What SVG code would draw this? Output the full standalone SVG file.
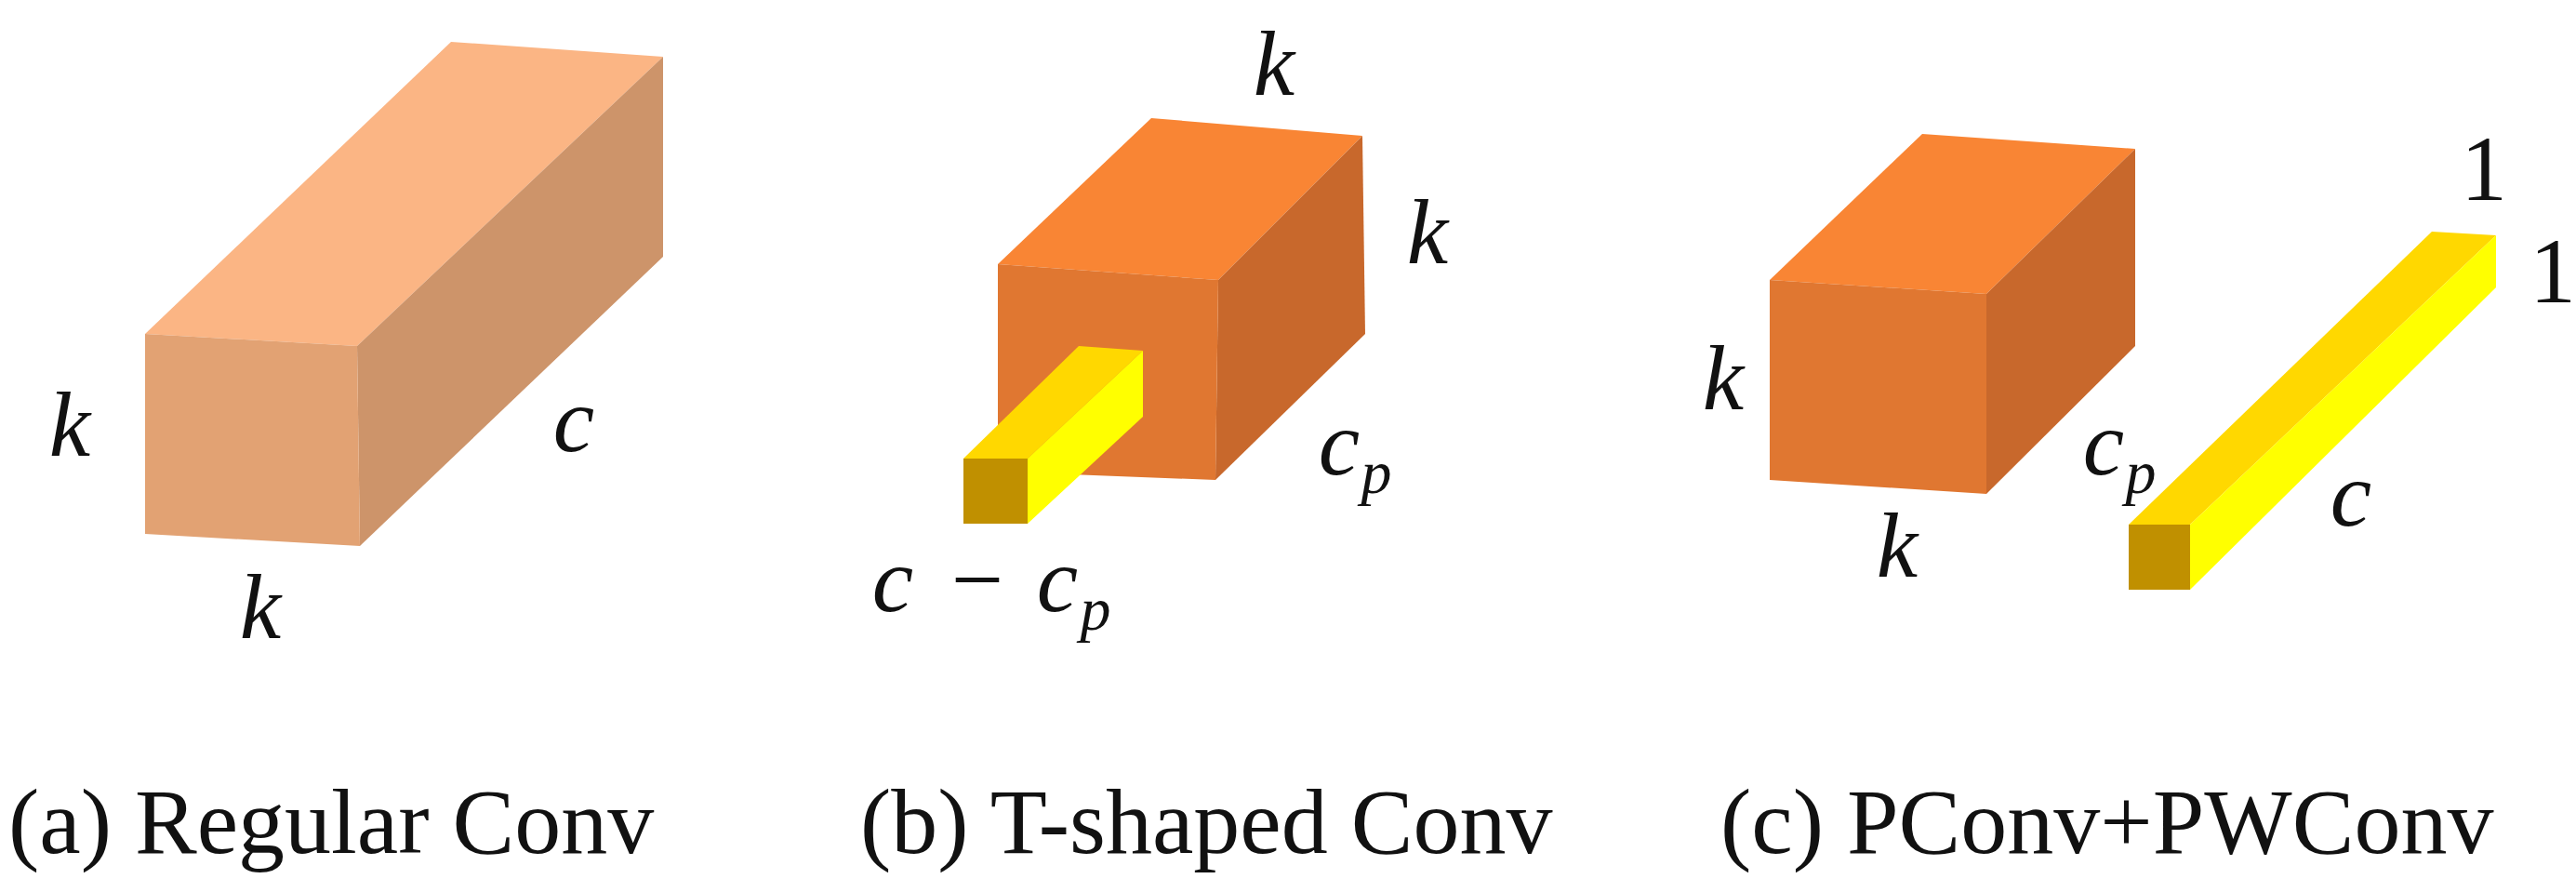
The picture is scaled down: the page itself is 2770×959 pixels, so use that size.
<svg xmlns="http://www.w3.org/2000/svg" width="2770" height="959" viewBox="0 0 2770 959">
<style>
.m{font-family:"Liberation Serif",serif;font-style:italic;font-size:100px;fill:#111;text-anchor:middle}
.s{font-size:66px}
.n{font-family:"Liberation Serif",serif;font-size:100px;fill:#111;text-anchor:middle}
.cap{font-family:"Liberation Serif",serif;font-size:100px;fill:#111}
.t1{fill:#FBB584}.f1{fill:#E2A273}.r1{fill:#CD946A}
.t2{fill:#F98534}.f2{fill:#E07731}.r2{fill:#C8682C}
.ty{fill:#FFD800}.fy{fill:#C09000}.ry{fill:#FFFF00}
</style>
<rect width="2770" height="959" fill="#fff"/>
<g id="regular-conv">
<polygon class="t1" points="485,45 713,61 384,372 156,359"/>
<polygon class="r1" points="713,61 713,276 387,587 384,372"/>
<polygon class="f1" points="156,359 384,372 387,587 156,574"/>
<text class="m" x="75" y="490">k</text>
<text class="m" x="617" y="485">c</text>
<text class="m" x="280" y="686">k</text>
<text class="cap" x="9" y="917">(a) Regular Conv</text>
</g>
<g id="t-shaped-conv">
<polygon class="t2" points="1238,127 1465,146 1310,301 1073,284"/>
<polygon class="r2" points="1465,146 1468,359 1307,516 1310,301"/>
<polygon class="f2" points="1073,284 1310,301 1307,516 1073,507"/>
<polygon class="ty" points="1160,372 1229,377 1105,493 1036,493"/>
<polygon class="ry" points="1229,377 1229,448 1105,563 1105,493"/>
<rect class="fy" x="1036" y="493" width="69" height="70"/>
<text class="m" x="1370" y="102">k</text>
<text class="m" x="1535" y="283">k</text>
<text class="m" x="1440" y="510">c</text>
<text class="m s" x="1480" y="530">p</text>
<text class="m" x="960" y="657">c</text>
<text class="n" x="1051" y="657">−</text>
<text class="m" x="1137" y="657">c</text>
<text class="m s" x="1178" y="677">p</text>
<text class="cap" x="925" y="917">(b) T-shaped Conv</text>
</g>
<g id="pconv-pwconv">
<polygon class="t2" points="2067,144 2296,160 2136,316 1903,301"/>
<polygon class="r2" points="2296,160 2296,372 2136,531 2136,316"/>
<polygon class="f2" points="1903,301 2136,316 2136,531 1903,516"/>
<polygon class="ty" points="2615,249 2684,253 2355,564 2289,564"/>
<polygon class="ry" points="2684,253 2684,309 2355,634 2355,564"/>
<rect class="fy" x="2289" y="564" width="66" height="70"/>
<text class="n" x="2671" y="215">1</text>
<text class="n" x="2745" y="325">1</text>
<text class="m" x="1853" y="440">k</text>
<text class="m" x="2262" y="510">c</text>
<text class="m s" x="2302" y="530">p</text>
<text class="m" x="2040" y="620">k</text>
<text class="m" x="2528" y="565">c</text>
<text class="cap" x="1850" y="917">(c) PConv+PWConv</text>
</g>
<g id="connectors"/>
</svg>
